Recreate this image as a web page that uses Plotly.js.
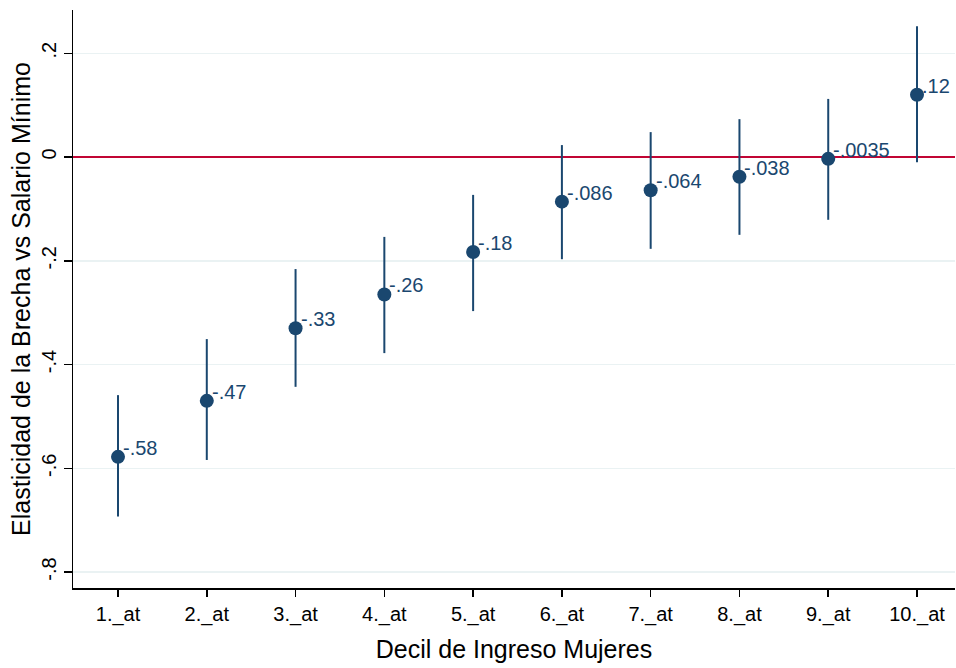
<!DOCTYPE html>
<html>
<head>
<meta charset="utf-8">
<script src="https://cdn.plot.ly/plotly-3.0.1.min.js"></script>
<style>html,body{margin:0;padding:0;background:#fff;}#chart{width:956px;height:668px;}</style>
</head>
<body>
<div id="chart"></div>
<script>
var deciles = [1, 2, 3, 4, 5, 6, 7, 8, 9, 10];
var tickLabels = ["1._at", "2._at", "3._at", "4._at", "5._at", "6._at", "7._at", "8._at", "9._at", "10._at"];
var estimates = [-0.578, -0.47, -0.33, -0.265, -0.183, -0.086, -0.064, -0.038, -0.0035, 0.12];
var pointLabels = ["-.58", "-.47", "-.33", "-.26", "-.18", "-.086", "-.064", "-.038", "-.0035", ".12"];
var ciLower = [-0.693, -0.584, -0.443, -0.378, -0.297, -0.197, -0.177, -0.150, -0.121, -0.010];
var ciUpper = [-0.459, -0.351, -0.216, -0.154, -0.073, 0.023, 0.048, 0.073, 0.112, 0.252];
var refValue = 0;
var yTicks = [-0.8, -0.6, -0.4, -0.2, 0, 0.2];
var yTickText = ["-.8", "-.6", "-.4", "-.2", "0", ".2"];

var navy = "#1a476f";
var errPlus = estimates.map(function(v, i){ return ciUpper[i] - v; });
var errMinus = estimates.map(function(v, i){ return v - ciLower[i]; });
var xRange = [0.493, 10.428];

var refLine = {
  x: [xRange[0] - 1, xRange[1] + 1], y: [refValue, refValue], type: "scatter", mode: "lines",
  line: {color: "#c10534", width: 2}, hoverinfo: "skip", showlegend: false
};

var trace = {
  x: deciles, y: estimates, type: "scatter", mode: "markers",
  marker: {color: navy, size: 14},
  error_y: {type: "data", symmetric: false, array: errPlus, arrayminus: errMinus,
            color: navy, thickness: 2, width: 0},
  hoverinfo: "skip", showlegend: false
};

var annotations = deciles.map(function(d, i){
  return {x: d, y: estimates[i], xref: "x", yref: "y", text: pointLabels[i],
          showarrow: false, xanchor: "left", yanchor: "middle", xshift: 3, yshift: 9,
          font: {family: "Liberation Sans, Arial, sans-serif", size: 20, color: navy}};
});

var layout = {
  width: 956, height: 668,
  margin: {l: 73, r: 1, t: 10, b: 80},
  paper_bgcolor: "#ffffff", plot_bgcolor: "#ffffff",
  font: {family: "Liberation Sans, Arial, sans-serif", size: 20, color: "#000"},
  xaxis: {
    range: xRange, tickvals: deciles, ticktext: tickLabels,
    showgrid: false, zeroline: false, showline: true, linecolor: "#000", linewidth: 1.5,
    ticks: "outside", ticklen: 7, tickcolor: "#000", tickwidth: 1.5,
    tickfont: {size: 20, color: "#000"},
    title: {text: "Decil de Ingreso Mujeres", font: {size: 25, color: "#000"}, standoff: 16}
  },
  yaxis: {
    range: [-0.8308, 0.2834], tickvals: yTicks, ticktext: yTickText, tickangle: -90,
    showgrid: true, gridcolor: "#eaf2f3", gridwidth: 1.5,
    zeroline: false, showline: true, linecolor: "#000", linewidth: 1.5,
    ticks: "outside", ticklen: 8, tickcolor: "#000", tickwidth: 1.5,
    tickfont: {size: 20, color: "#000"},
    title: {text: "Elasticidad de la Brecha vs Salario Mínimo", font: {size: 25, color: "#000"}, standoff: 0}
  },
  annotations: annotations
};

Plotly.newPlot("chart", [refLine, trace], layout, {displayModeBar: false, staticPlot: true});
</script>
</body>
</html>
